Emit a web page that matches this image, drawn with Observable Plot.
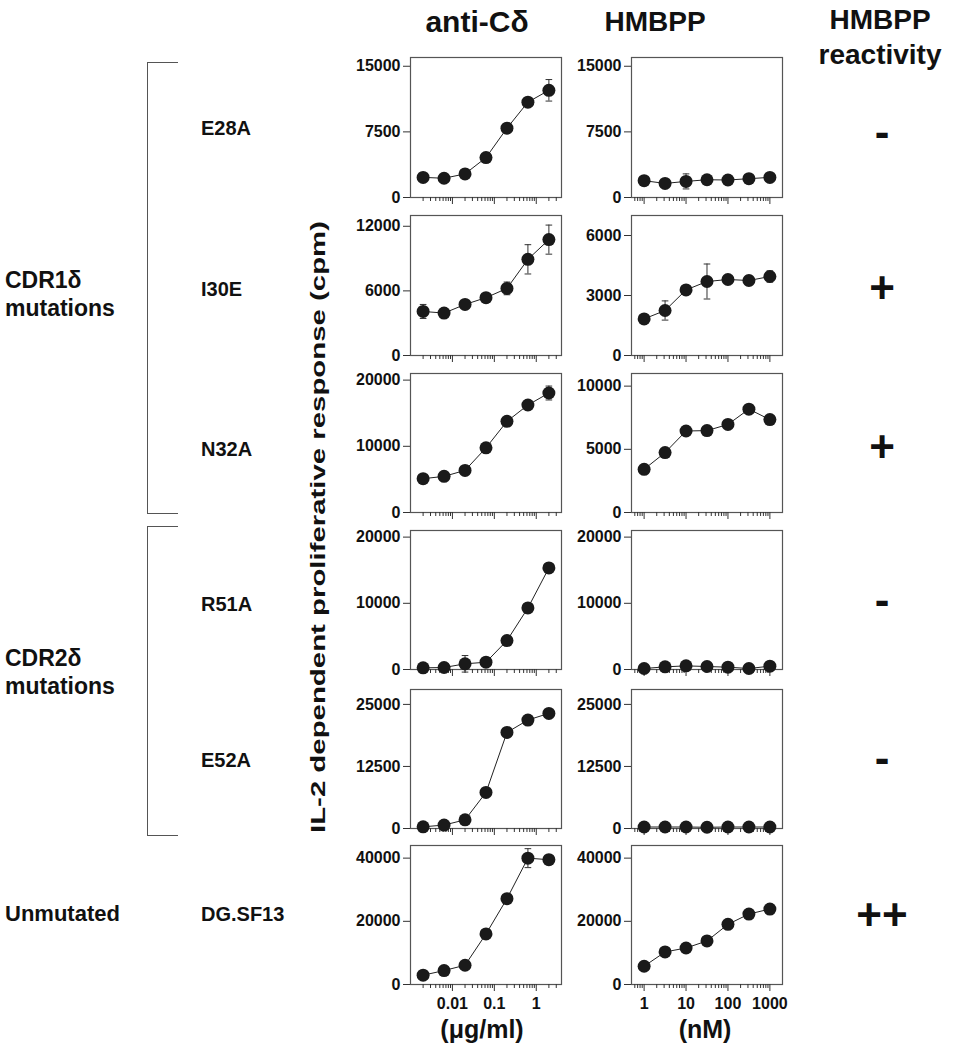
<!DOCTYPE html>
<html>
<head>
<meta charset="utf-8">
<script src="https://cdn.jsdelivr.net/npm/d3@7"></script>
<script src="https://cdn.jsdelivr.net/npm/@observablehq/plot@0.6"></script>
<style>
  html, body { margin: 0; padding: 0; background: #fff; }
  #root { position: relative; width: 958px; height: 1050px; font-family: "Liberation Sans", Arial, sans-serif; font-weight: bold; color: #111; }
  .lbl { position: absolute; line-height: 1; white-space: nowrap; transform: translate(-50%, -50%); }
  .lft { position: absolute; line-height: 1; white-space: nowrap; transform: translate(0, -50%); }
  .brk { position: absolute; border: 1px solid #555; border-right: none; }
</style>
</head>
<body>
<div id="root"></div>
<script>
// ---- data ----
const antiConc = [0.002, 0.00632, 0.02, 0.0632, 0.2, 0.632, 2];
const hmbppConc = [1, 3.16, 10, 31.6, 100, 316, 1000];
const mutants = ["E28A", "I30E", "N32A", "R51A", "E52A", "DG.SF13"];
const reactivity = ["-", "+", "+", "-", "-", "++"];
const antiMean = [
  [2300, 2200, 2700, 4560, 7920, 10900, 12250],
  [4090, 3940, 4740, 5370, 6230, 8930, 10760],
  [5110, 5460, 6360, 9770, 13770, 16240, 18050],
  [250, 300, 860, 1100, 4370, 9300, 15340],
  [340, 690, 1750, 7260, 19350, 21850, 23190],
  [2940, 4420, 6100, 16000, 27170, 40000, 39500]
];
const antiErr = [
  [200, 150, 250, 250, 300, 400, 1230],
  [650, 200, 250, 200, 590, 1360, 1350],
  [300, 300, 300, 300, 300, 400, 1050],
  [100, 100, 1250, 200, 300, 500, 700],
  [100, 100, 100, 100, 100, 100, 100],
  [300, 300, 300, 300, 300, 3000, 300]
];
const hmbppMean = [
  [1920, 1610, 1840, 2030, 2000, 2150, 2300],
  [1830, 2250, 3280, 3700, 3800, 3750, 3950],
  [3420, 4740, 6450, 6480, 6970, 8180, 7350],
  [150, 400, 550, 450, 350, 150, 500],
  [300, 300, 300, 250, 300, 300, 300],
  [5780, 10300, 11560, 13780, 19050, 22300, 23890]
];
const hmbppErr = [
  [100, 100, 860, 300, 100, 100, 100],
  [100, 480, 100, 875, 100, 230, 280],
  [100, 100, 100, 100, 100, 100, 100],
  [100, 100, 100, 100, 100, 100, 100],
  [100, 100, 100, 100, 100, 100, 100],
  [300, 300, 300, 300, 300, 300, 300]
];
const antiYMax = [16000, 13000, 21000, 21000, 28000, 44000];
const hmbppYMax = [16000, 7000, 11000, 21000, 28000, 44000];
const antiYTicks = [[0, 7500, 15000], [0, 6000, 12000], [0, 10000, 20000], [0, 10000, 20000], [0, 12500, 25000], [0, 20000, 40000]];
const hmbppYTicks = [[0, 7500, 15000], [0, 3000, 6000], [0, 5000, 10000], [0, 10000, 20000], [0, 12500, 25000], [0, 20000, 40000]];
const antiXDomain = [0.001, 4];
const hmbppXDomain = [0.5, 2000];
const antiMajor = [0.01, 0.1, 1];
const hmbppMajor = [1, 10, 100, 1000];
const antiMinor = [0.002,0.003,0.004,0.005,0.006,0.007,0.008,0.009,0.02,0.03,0.04,0.05,0.06,0.07,0.08,0.09,0.2,0.3,0.4,0.5,0.6,0.7,0.8,0.9,2,3];
const hmbppMinor = [0.6,0.7,0.8,0.9,2,3,4,5,6,7,8,9,20,30,40,50,60,70,80,90,200,300,400,500,600,700,800,900];

// ---- layout ----
const root = document.getElementById("root");
const rowTop = [57, 215, 373, 530, 689, 845];
const rowBottom = [197, 355, 512, 669, 828, 984];
const colLeft = [410, 631];
const frameW = 151;
const mL = 70, mR = 12, mT = 6;

function panel(r, c) {
  const isAnti = c === 0;
  const conc = isAnti ? antiConc : hmbppConc;
  const mean = (isAnti ? antiMean : hmbppMean)[r];
  const err = (isAnti ? antiErr : hmbppErr)[r];
  const data = conc.map((x, i) => ({x, y: mean[i], lo: mean[i] - err[i], hi: mean[i] + err[i]}));
  const last = r === 5;
  const mB = last ? 34 : 14;
  const h = rowBottom[r] - rowTop[r];
  const capF = 1.2;
  const marks = [
    Plot.frame({stroke: "#555", strokeWidth: 1.2}),
    Plot.axisY((isAnti ? antiYTicks : hmbppYTicks)[r], {label: null, tickSize: 7, tickPadding: 3, tickFormat: d => String(d), fontSize: 16, fontWeight: "bold", stroke: "#333"}),
    Plot.axisX(isAnti ? antiMinor : hmbppMinor, {label: null, tickSize: 4, tickFormat: () => "", stroke: "#333"}),
    Plot.axisX(isAnti ? antiMajor : hmbppMajor, {label: null, tickSize: 7, tickPadding: 6, tickFormat: last ? (d => String(d)) : (() => ""), fontSize: 16, fontWeight: "bold", stroke: "#333"}),
    Plot.line(data, {x: "x", y: "y", stroke: "#222", strokeWidth: 1}),
    Plot.ruleX(data, {x: "x", y1: "lo", y2: "hi", stroke: "#333", strokeWidth: 1}),
    Plot.link(data, {x1: d => d.x / capF, x2: d => d.x * capF, y1: "hi", y2: "hi", stroke: "#333", strokeWidth: 1}),
    Plot.link(data, {x1: d => d.x / capF, x2: d => d.x * capF, y1: "lo", y2: "lo", stroke: "#333", strokeWidth: 1}),
    Plot.dot(data, {x: "x", y: "y", r: 6.5, fill: "#1a1a1a", stroke: "none"})
  ];
  const svg = Plot.plot({
    width: mL + frameW + mR,
    height: mT + h + mB,
    marginLeft: mL, marginRight: mR, marginTop: mT, marginBottom: mB,
    x: {type: "log", domain: isAnti ? antiXDomain : hmbppXDomain, label: null},
    y: {domain: [0, (isAnti ? antiYMax : hmbppYMax)[r]], label: null},
    style: {fontFamily: "'Liberation Sans', Arial, sans-serif", fontWeight: "bold", fontSize: "16px", color: "#111", background: "transparent", overflow: "visible"},
    marks
  });
  svg.style.position = "absolute";
  svg.style.left = (colLeft[c] - mL) + "px";
  svg.style.top = (rowTop[r] - mT) + "px";
  root.appendChild(svg);
}
for (let r = 0; r < 6; r++) { panel(r, 0); panel(r, 1); }

function addText(cls, text, x, y, size, extra) {
  const d = document.createElement("div");
  d.className = cls;
  d.textContent = text;
  d.style.left = x + "px";
  d.style.top = y + "px";
  d.style.fontSize = size + "px";
  if (extra) Object.assign(d.style, extra);
  root.appendChild(d);
  return d;
}
// column titles
addText("lbl", "anti-C\u03B4", 477, 22, 30);
addText("lbl", "HMBPP", 655, 22, 28);
addText("lbl", "HMBPP", 880, 20, 28);
addText("lbl", "reactivity", 880, 55, 28);
// row labels
const rowMid = [128, 289, 449, 604, 760, 914];
mutants.forEach((m, i) => addText("lft", m, 201, rowMid[i], 20));
const symY = [132, 288, 447, 600, 758, 915];
reactivity.forEach((s, i) => addText("lbl", s, 882, symY[i], 44));
// group labels
addText("lft", "CDR1\u03B4", 5, 280, 23);
addText("lft", "mutations", 5, 308, 23);
addText("lft", "CDR2\u03B4", 5, 658, 23);
addText("lft", "mutations", 5, 686, 23);
addText("lft", "Unmutated", 5, 914, 22);
// y axis label (stretched to the reference's span)
const ns = "http://www.w3.org/2000/svg";
const ov = document.createElementNS(ns, "svg");
ov.setAttribute("width", 958); ov.setAttribute("height", 1050);
ov.style.position = "absolute"; ov.style.left = "0px"; ov.style.top = "0px"; ov.style.pointerEvents = "none";
const yt = document.createElementNS(ns, "text");
yt.setAttribute("transform", "translate(318,527) rotate(-90)");
yt.setAttribute("text-anchor", "middle");
yt.setAttribute("dy", "0.35em");
yt.setAttribute("font-size", "21");
yt.setAttribute("font-weight", "bold");
yt.setAttribute("font-family", "'Liberation Sans', Arial, sans-serif");
yt.setAttribute("fill", "#111");
yt.setAttribute("textLength", "612");
yt.setAttribute("lengthAdjust", "spacingAndGlyphs");
yt.textContent = "IL-2 dependent proliferative response (cpm)";
ov.appendChild(yt);
root.appendChild(ov);
// x axis titles
addText("lbl", "(\u03BCg/ml)", 482, 1029, 25);
addText("lbl", "(nM)", 705, 1029, 25);
// brackets
function bracket(y1, y2) {
  const d = document.createElement("div");
  d.className = "brk";
  d.style.left = "147px";
  d.style.top = y1 + "px";
  d.style.width = "30px";
  d.style.height = (y2 - y1) + "px";
  root.appendChild(d);
}
bracket(62, 512);
bracket(526, 834);
</script>
</body>
</html>
